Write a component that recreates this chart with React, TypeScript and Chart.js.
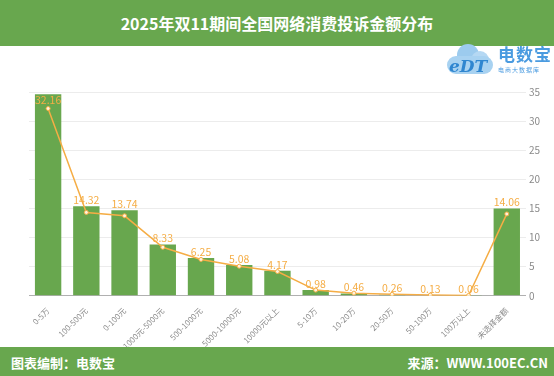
import React, { useEffect, useRef } from "react";
import { Chart, registerables } from "chart.js";

Chart.register(...registerables);

const categories = ["0-5万", "100-500元", "0-100元", "1000元-5000元", "500-1000元", "5000-10000元", "10000元以上", "5-10万", "10-20万", "20-50万", "50-100万", "100万以上", "未选择金额"];
const barValues = [34.6, 15.4, 14.7, 8.8, 6.5, 5.3, 4.3, 1.0, 0.4, 0.2, 0.1, 0.05, 15.0];
const lineValues = [32.16, 14.32, 13.74, 8.33, 6.25, 5.08, 4.17, 0.98, 0.46, 0.26, 0.13, 0.06, 14.06];
const labelTexts = ["32.16", "14.32", "13.74", "8.33", "6.25", "5.08", "4.17", "0.98", "0.46", "0.26", "0.13", "0.06", "14.06"];
const yTicks = [0, 5, 10, 15, 20, 25, 30, 35];

const GREEN = "#68a74e";
const ORANGE = "#f5ad45";
const FONT = "'Noto Sans CJK SC', 'Noto Sans', sans-serif";

const labelPlugin = {
  id: "barLabels",
  afterDatasetsDraw(chart: any) {
    const meta = chart.getDatasetMeta(1);
    const ctx = chart.ctx;
    const top = chart.chartArea.top;
    ctx.save();
    ctx.font = `10.5px ${FONT}`;
    ctx.fillStyle = ORANGE;
    ctx.textAlign = "center";
    ctx.textBaseline = "bottom";
    meta.data.forEach((el: any, i: number) => {
      const y = Math.max(el.y - 1, top + 13);
      ctx.fillText(labelTexts[i], el.x, y);
    });
    ctx.restore();
  },
};

export default function App() {
  const ref = useRef<HTMLCanvasElement>(null);
  useEffect(() => {
    document.body.style.margin = "0";
    const chart = new Chart(ref.current!, {
      type: "bar",
      data: {
        labels: categories,
        datasets: [
          {
            type: "line",
            data: lineValues,
            borderColor: ORANGE,
            borderWidth: 1.5,
            pointRadius: 2,
            pointBackgroundColor: "#fff3dd",
            pointBorderColor: ORANGE,
            pointBorderWidth: 1,
            tension: 0,
            order: 0,
          } as any,
          {
            type: "bar",
            data: barValues,
            backgroundColor: GREEN,
            barPercentage: 0.69,
            categoryPercentage: 1,
            order: 1,
          },
        ],
      },
      options: {
        animation: false,
        responsive: false,
        layout: { padding: { left: 29, right: 11, top: 92, bottom: 23 } },
        plugins: { legend: { display: false }, tooltip: { enabled: false } },
        scales: {
          x: {
            grid: { display: false },
            border: { color: "#b0b0b0" },
            ticks: {
              color: "#8a8a8a",
              font: { size: 8, family: FONT },
              minRotation: 45,
              maxRotation: 45,
              padding: 2,
            },
          },
          y: {
            position: "right",
            min: 0,
            max: 35,
            afterBuildTicks: (s: any) => {
              s.ticks = yTicks.map((v) => ({ value: v }));
            },
            grid: { color: "#ececec", drawTicks: false },
            border: { display: false },
            ticks: {
              color: "#8a8a8a",
              font: { size: 10, family: FONT },
              padding: 3,
            },
          },
        },
      },
      plugins: [labelPlugin],
    });
    return () => chart.destroy();
  }, []);

  return (
    <div style={{ position: "fixed", left: 0, top: 0, width: 554, height: 376, background: "#fff", overflow: "hidden", fontFamily: FONT }}>
      <canvas ref={ref} width={554} height={376} style={{ position: "absolute", left: 0, top: 0 }} />
      <div style={{ position: "absolute", left: 0, top: 0, width: 554, height: 46, background: GREEN, color: "#fff", fontWeight: 700, fontSize: 16, lineHeight: "46px", textAlign: "center" }}>
        2025年双11期间全国网络消费投诉金额分布
      </div>
      <div style={{ position: "absolute", left: 445, top: 44, width: 50, height: 32 }}>
        <div style={{ position: "absolute", left: 12, top: 0, width: 22, height: 22, borderRadius: 11, background: "#9ccbee" }} />
        <div style={{ position: "absolute", left: 26, top: 7, width: 18, height: 18, borderRadius: 9, background: "#b5d8f3" }} />
        <div style={{ position: "absolute", left: 2, top: 12, width: 46, height: 18, borderRadius: 9, background: "#a8d2f1" }} />
        <div style={{ position: "absolute", left: 4, top: 12, fontSize: 17, fontWeight: 700, fontStyle: "italic", color: "#2f86d0", lineHeight: "20px", fontFamily: "'DejaVu Serif', serif" }}>eDT</div>
      </div>
      <div style={{ position: "absolute", left: 498, top: 44, fontSize: 17, fontWeight: 700, color: "#4a9be0", lineHeight: "20px", letterSpacing: 1 }}>电数宝</div>
      <div style={{ position: "absolute", left: 498, top: 66, fontSize: 6, color: "#4a9be0", lineHeight: "8px", letterSpacing: 1 }}>电商大数据库</div>
      <div style={{ position: "absolute", left: 0, top: 347, width: 554, height: 29, background: GREEN, color: "#fff", fontWeight: 700, fontSize: 13 }}>
        <span style={{ position: "absolute", left: 11, top: 6 }}>图表编制：电数宝</span>
        <span style={{ position: "absolute", right: 6, top: 6 }}>来源：WWW.100EC.CN</span>
      </div>
    </div>
  );
}
